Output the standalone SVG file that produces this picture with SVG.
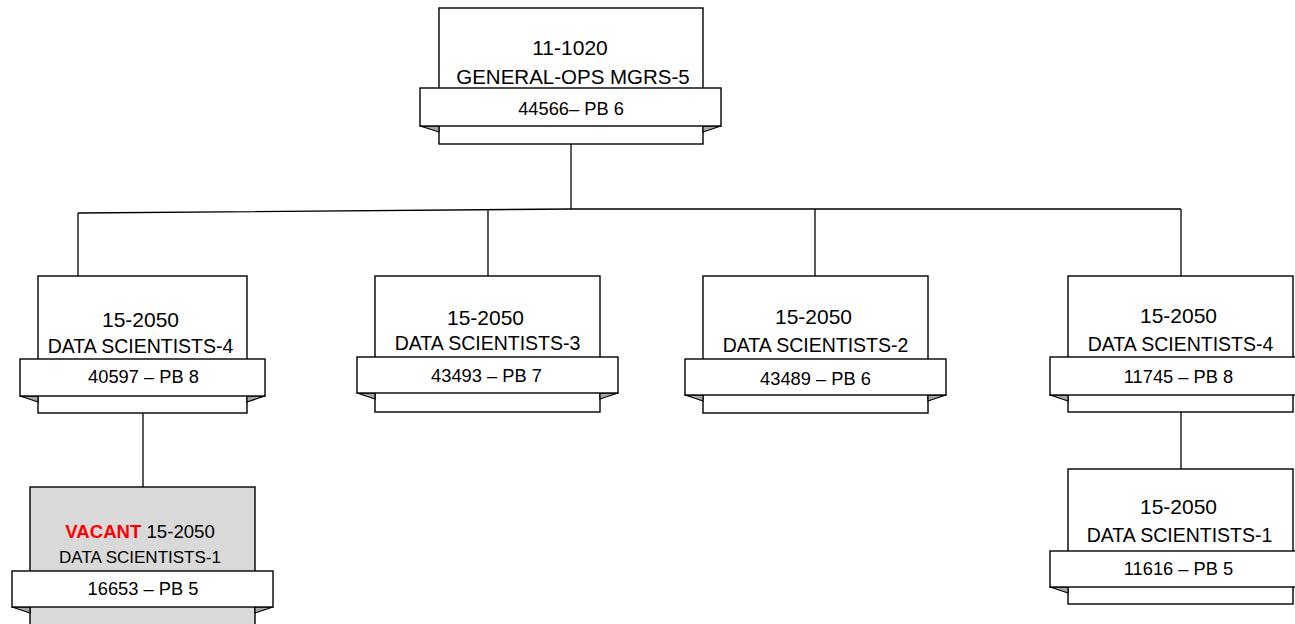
<svg xmlns="http://www.w3.org/2000/svg" width="1295" height="624" viewBox="0 0 1295 624">
<style>
.box{fill:#fff;stroke:#000;stroke-width:1.4}
.vac{fill:#d9d9d9;stroke:#000;stroke-width:1.4}
.rib{fill:#fff;stroke:#000;stroke-width:1.4}
.fold{fill:#a6a6a6;stroke:#000;stroke-width:1.2;stroke-linejoin:round}
.t{font-family:"Liberation Sans",Arial,sans-serif;font-size:19.5px;fill:#000;text-anchor:middle}
.h{font-family:"Liberation Sans",Arial,sans-serif;font-size:21px;fill:#000;text-anchor:middle}
.r{font-family:"Liberation Sans",Arial,sans-serif;font-size:18.3px;fill:#000;text-anchor:middle}
.conn{fill:none;stroke:#000;stroke-width:1.3}
</style>
<rect width="1295" height="624" fill="#fff"/>
<g id="connectors">
<path class="conn" d="M571,144 V209"/>
<path class="conn" d="M78,213 L571,209 H1181"/>
<path class="conn" d="M78,213 V276"/>
<path class="conn" d="M488,210 V276"/>
<path class="conn" d="M815,209 V276"/>
<path class="conn" d="M1181,209 V276"/>
<path class="conn" d="M143,413 V487"/>
<path class="conn" d="M1181,412 V469"/>
</g>
<g id="node-top">
<rect class="box" x="439" y="8" width="264" height="136"/>
<polygon class="fold" points="420,126 439,126 439,132"/>
<polygon class="fold" points="721,126 703,126 703,132"/>
<rect class="rib" x="420" y="88" width="301" height="38"/>
<text class="h" x="570" y="55">11-1020</text>
<text class="t" x="573" y="84" style="font-size:20.5px">GENERAL-OPS MGRS-5</text>
<text class="r" x="571" y="115">44566– PB 6</text>
</g>
<g id="node-ds4-left">
<rect class="box" x="38" y="276" width="209" height="137"/>
<polygon class="fold" points="20,396 38,396 38,402"/>
<polygon class="fold" points="265,396 247,396 247,402"/>
<rect class="rib" x="20" y="359" width="245" height="37"/>
<text class="h" x="140.5" y="327">15-2050</text>
<text class="t" x="140.5" y="353">DATA SCIENTISTS-4</text>
<text class="r" x="143.5" y="383">40597 – PB 8</text>
</g>
<g id="node-ds3">
<rect class="box" x="375" y="276" width="225" height="136"/>
<polygon class="fold" points="357,393 375,393 375,399"/>
<polygon class="fold" points="618,393 600,393 600,399"/>
<rect class="rib" x="357" y="357" width="261" height="36"/>
<text class="h" x="485.5" y="325">15-2050</text>
<text class="t" x="487.5" y="350">DATA SCIENTISTS-3</text>
<text class="r" x="486.5" y="382">43493 – PB 7</text>
</g>
<g id="node-ds2">
<rect class="box" x="703" y="276" width="225" height="137"/>
<polygon class="fold" points="685,395 703,395 703,401"/>
<polygon class="fold" points="946,395 928,395 928,401"/>
<rect class="rib" x="685" y="359" width="261" height="36"/>
<text class="h" x="813.5" y="324">15-2050</text>
<text class="t" x="815.5" y="352">DATA SCIENTISTS-2</text>
<text class="r" x="815.5" y="385">43489 – PB 6</text>
</g>
<g id="node-ds4-right">
<rect class="box" x="1068" y="276" width="225" height="136"/>
<polygon class="fold" points="1050,395 1068,395 1068,401"/>
<rect class="rib" x="1050" y="357" width="261" height="38"/>
<text class="h" x="1178.5" y="323">15-2050</text>
<text class="t" x="1180.5" y="351">DATA SCIENTISTS-4</text>
<text class="r" x="1178.5" y="383">11745 – PB 8</text>
</g>
<g id="node-vacant">
<rect class="vac" x="30" y="487" width="225" height="160"/>
<polygon class="fold" points="12,607 30,607 30,613"/>
<polygon class="fold" points="273,607 255,607 255,613"/>
<rect class="rib" x="12" y="571" width="261" height="36"/>
<text class="t" x="140" y="538" style="font-size:18.6px"><tspan fill="#ff0000" font-weight="bold">VACANT</tspan> 15-2050</text>
<text class="t" x="140" y="563" style="font-size:17px">DATA SCIENTISTS-1</text>
<text class="r" x="143" y="595">16653 – PB 5</text>
</g>
<g id="node-ds1-right">
<rect class="box" x="1068" y="469" width="225" height="135"/>
<polygon class="fold" points="1050,587 1068,587 1068,593"/>
<rect class="rib" x="1050" y="551" width="261" height="36"/>
<text class="h" x="1178.5" y="514">15-2050</text>
<text class="t" x="1179.5" y="542">DATA SCIENTISTS-1</text>
<text class="r" x="1178.5" y="575">11616 – PB 5</text>
</g>
</svg>
